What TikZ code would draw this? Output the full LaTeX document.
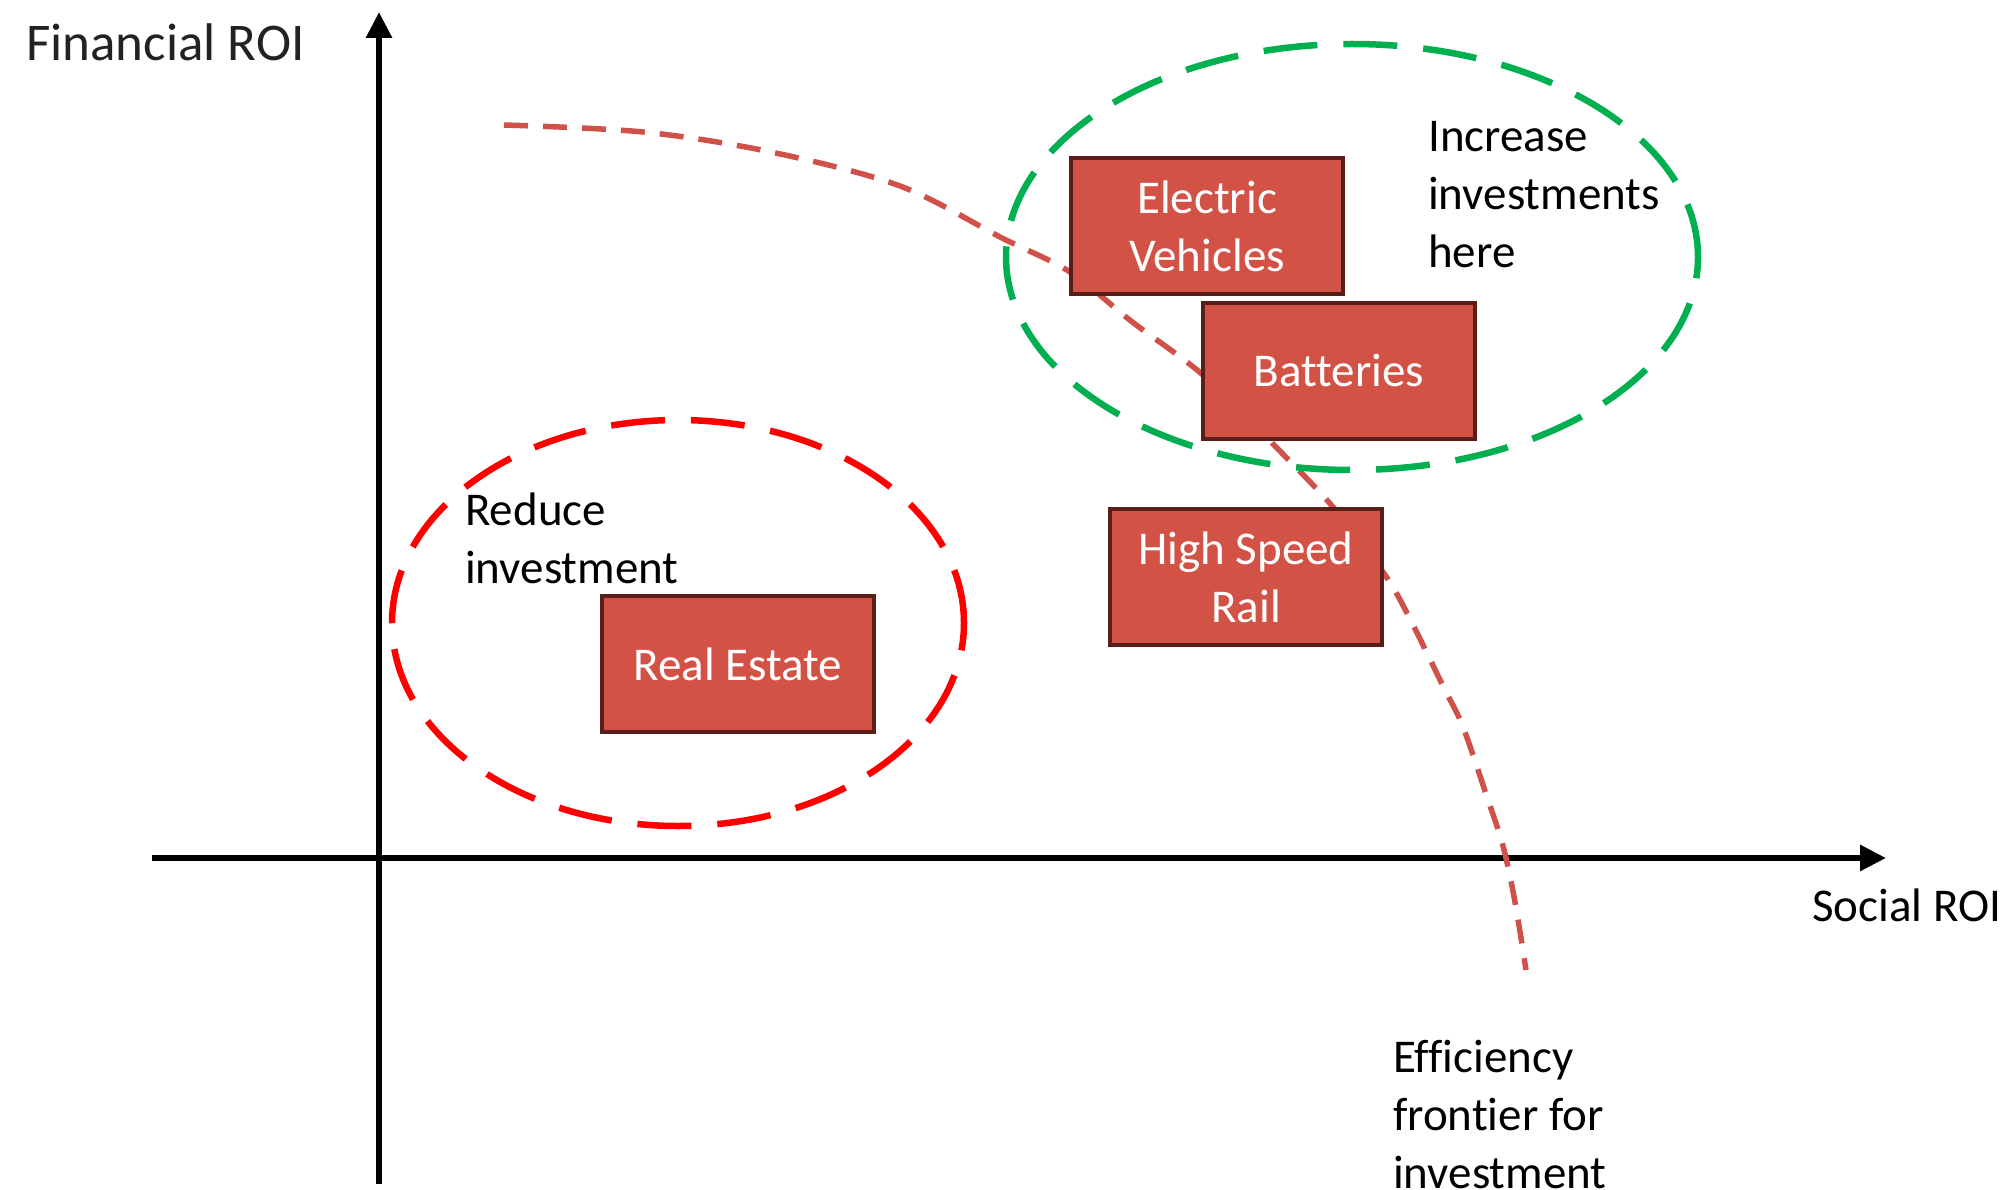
\documentclass[tikz,border=0pt]{standalone}
\usepackage{fontspec}
\setmainfont{Carlito}[Ligatures=NoCommon]
\usetikzlibrary{arrows.meta,shapes.geometric}

\definecolor{boxfill}{HTML}{D35246}
\definecolor{boxedge}{HTML}{5A1E1A}
\definecolor{frontierred}{HTML}{D0504A}
\definecolor{zonegreen}{HTML}{00B050}
\definecolor{zonered}{HTML}{FF0000}
\definecolor{labelink}{HTML}{222222}

\tikzset{
  axis/.style={line width=6pt, -{Triangle[length=26pt,width=25pt]}},
  sector/.style={rectangle, draw=boxedge, fill=boxfill, line width=4pt,
    minimum width=272pt, minimum height=136pt, text=white, align=center,
    font=\fontsize{47}{58}\selectfont, inner sep=0pt},
  zone/.style={ellipse, line width=6.5pt, dash pattern=on 54pt off 26pt,
    inner sep=0pt},
  frontier/.style={draw=frontierred, line width=5.5pt,
    dash pattern=on 24pt off 15pt},
  note/.style={font=\fontsize{47}{58}\selectfont, align=left, inner sep=0pt,
    anchor=west},
}

\begin{document}
\begin{tikzpicture}[x=1pt, y=-1pt]
  \useasboundingbox (0,0) rectangle (2015,1190);

  % axes
  \coordinate (yfoot) at (379,1184);
  \coordinate (ytip) at (379,12);
  \coordinate (xfoot) at (152,858);
  \coordinate (xtip) at (1886,858);
  \draw[axis] (yfoot) -- (ytip);
  \draw[axis] (xfoot) -- (xtip);

  \node[anchor=west, inner sep=0pt, text=labelink,
        font=\fontsize{53}{64}\selectfont] (fin) at (26,42) {Financial ROI};
  \node[anchor=west, inner sep=0pt, font=\fontsize{47}{58}\selectfont]
        (soc) at (1812,905) {Social ROI};

  % efficiency frontier
  \draw[frontier] plot[smooth, tension=0.55] coordinates {
    (504,125) (643,132) (771,152) (900,186) (1002,238) (1070,272)
    (1131,321) (1203,375) (1272,443) (1333,507) (1383,572) (1407,613)
    (1443,686) (1463,727) (1487,797) (1503,846) (1515,902) (1526,970)};

  % target zones
  \node[zone, draw=zonegreen, minimum width=692pt, minimum height=426pt]
        (grow) at (1352,257) {};
  \node[zone, draw=zonered, minimum width=572pt, minimum height=406pt]
        (shrink) at (678,623) {};

  % sectors
  \node[sector] (ev) at (1207,226) {Electric\\Vehicles};
  \node[sector] (bat) at (1339,371) {Batteries};
  \node[sector] (hsr) at (1246,577) {High Speed\\Rail};
  \node[sector] (re) at (738,664) {Real Estate};

  % annotations
  \node[note] (inc) at (1428,195) {Increase\\investments\\here};
  \node[note] (red) at (465,538) {Reduce\\investment};
  \node[note, anchor=north west] (eff) at (1393,1040)
        {Efficiency\\frontier for\\investment};
\end{tikzpicture}
\end{document}
